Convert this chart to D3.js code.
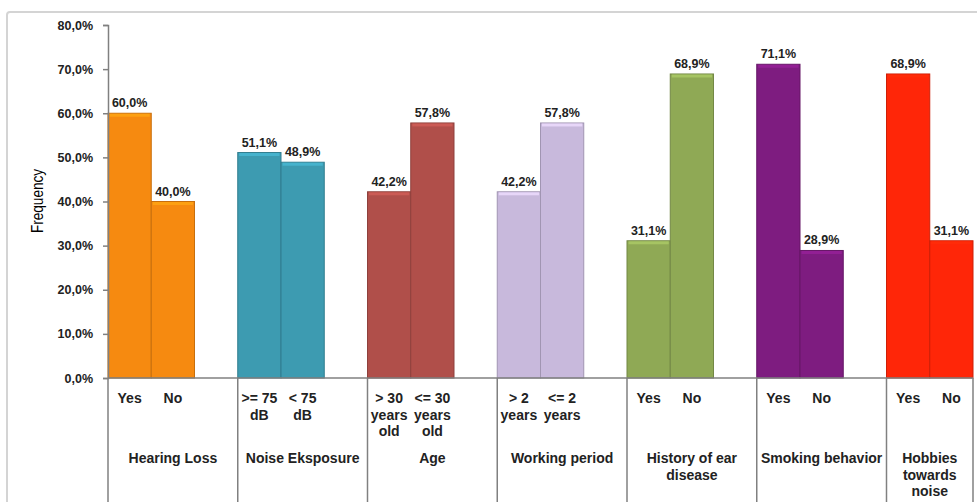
<!DOCTYPE html>
<html>
<head>
<meta charset="utf-8">
<script src="https://cdnjs.cloudflare.com/ajax/libs/d3/7.8.5/d3.min.js"></script>
<style>
  body { margin:0; background:#fff; }
  text { font-family: "Liberation Sans", Arial, sans-serif; }
</style>
</head>
<body>
<div id="chart"></div>
<script>
// groups on the category axis
var groups = ["Hearing Loss", "Noise Eksposure", "Age", "Working period",
              "History of ear disease", "Smoking behavior", "Hobbies towards noise"];
// group label, split in lines
var groupLines = [["Hearing Loss"], ["Noise Eksposure"], ["Age"], ["Working period"],
                  ["History of ear", "disease"], ["Smoking behavior"], ["Hobbies", "towards", "noise"]];
// sub-category labels (2 per group), split in lines
var subLines = [
  [["Yes"], ["No"]],
  [[">= 75", "dB"], ["< 75", "dB"]],
  [["> 30", "years", "old"], ["<= 30", "years", "old"]],
  [["> 2", "years"], ["<= 2", "years"]],
  [["Yes"], ["No"]],
  [["Yes"], ["No"]],
  [["Yes"], ["No"]]
];
// frequency values in %
var firstValues  = [60.0, 51.1, 42.2, 42.2, 31.1, 71.1, 68.9];
var secondValues = [40.0, 48.9, 57.8, 57.8, 68.9, 28.9, 31.1];
var barColors = ["#f68a10", "#3d9bb1", "#b04f4a", "#c8b9dc", "#8fa955", "#7e1c80", "#ff2608"];
var yTicks = [0, 10, 20, 30, 40, 50, 60, 70, 80];

var W = 977, H = 502;
var plotLeft = 108, plotTop = 25, plotBottom = 378;
var slot = 43.25;   // one bar slot (gap width 0, one empty slot between groups)

var svg = d3.select('#chart').append('svg')
    .attr('width', W).attr('height', H);

// outer chart border (cut by the picture on right/bottom)
svg.append('rect')
    .attr('x', 7).attr('y', 12)
    .attr('width', W + 20).attr('height', H + 20)
    .attr('rx', 3)
    .attr('fill', 'none').attr('stroke', '#d4d4d4').attr('stroke-width', 2);

var x = d3.scaleBand()
    .domain(groups)
    .range([plotLeft, plotLeft + slot * 3 * groups.length])
    .paddingInner(0).paddingOuter(0);
var xi = d3.scaleBand().domain([0, 1]).range([0, slot * 2]);
var plotRight = x(groups[groups.length - 1]) + slot * 2;

var y = d3.scaleLinear().domain([0, 80]).range([plotBottom, plotTop]);

// bar data
var bars = [];
groups.forEach(function(g, i) {
  bars.push({g: g, i: i, k: 0, v: firstValues[i], c: barColors[i]});
  bars.push({g: g, i: i, k: 1, v: secondValues[i], c: barColors[i]});
});

var bar = svg.append('g').selectAll('g')
    .data(bars).enter().append('g');

bar.append('rect')
    .attr('x', function(d){ return x(d.g) + xi(d.k); })
    .attr('y', function(d){ return y(d.v); })
    .attr('width', xi.bandwidth())
    .attr('height', function(d){ return plotBottom - y(d.v); })
    .attr('fill', function(d){ return d.c; })
    .attr('stroke', function(d){ return d3.color(d.c).darker(0.6); })
    .attr('stroke-width', 1);

// little bevel highlight on the top
bar.append('rect')
    .attr('x', function(d){ return x(d.g) + xi(d.k) + 1.5; })
    .attr('y', function(d){ return y(d.v) + 0.5; })
    .attr('width', xi.bandwidth() - 3)
    .attr('height', 3)
    .attr('fill', function(d){ return d3.color(d.c).brighter(0.5); })
    .attr('opacity', 0.8);

// value labels
var fmt = function(v){ return v.toFixed(1).replace('.', ',') + '%'; };
bar.append('text')
    .attr('x', function(d){ return x(d.g) + xi(d.k) + xi.bandwidth() / 2; })
    .attr('y', function(d){ return y(d.v) - 6; })
    .attr('text-anchor', 'middle')
    .attr('font-size', '12.5px').attr('font-weight', 'bold').attr('fill', '#222')
    .text(function(d){ return fmt(d.v); });

// y axis
var yAxis = d3.axisLeft(y)
    .tickValues(yTicks)
    .tickSize(5).tickPadding(10)
    .tickFormat(fmt);
var ya = svg.append('g')
    .attr('transform', 'translate(' + plotLeft + ',0)')
    .call(yAxis);
ya.select('.domain').attr('stroke', '#808080').attr('stroke-width', 1.5);
ya.selectAll('.tick line').attr('stroke', '#808080').attr('stroke-width', 1.5);
ya.selectAll('.tick text')
    .attr('font-size', '12.5px').attr('font-weight', 'bold').attr('fill', '#222')
    .style('font-family', '"Liberation Sans", Arial, sans-serif');

// axis title, condensed like Arial Narrow
svg.append('text')
    .attr('transform', 'translate(43,201) rotate(-90) scale(0.85,1)')
    .attr('text-anchor', 'middle')
    .attr('font-size', '16px').attr('fill', '#000')
    .style('font-family', '"Liberation Sans", Arial, sans-serif')
    .text('Frequency');

// category axis: baseline + dividers
svg.append('line')
    .attr('x1', plotLeft).attr('x2', plotRight)
    .attr('y1', plotBottom).attr('y2', plotBottom)
    .attr('stroke', '#808080').attr('stroke-width', 1.5);

var dividers = groups.map(function(g){ return x(g); }).concat([plotRight]);
svg.append('g').selectAll('line')
    .data(dividers).enter().append('line')
    .attr('x1', function(d){ return d; }).attr('x2', function(d){ return d; })
    .attr('y1', plotBottom).attr('y2', H)
    .attr('stroke', '#808080').attr('stroke-width', 1.5);

// sub labels
var subs = [];
groups.forEach(function(g, i) {
  subLines[i].forEach(function(lines, k) {
    subs.push({g: g, k: k, lines: lines});
  });
});
var st = svg.append('g').selectAll('text')
    .data(subs).enter().append('text')
    .attr('text-anchor', 'middle')
    .attr('font-size', '14px').attr('font-weight', 'bold').attr('fill', '#222');
st.selectAll('tspan')
    .data(function(d){ return d.lines.map(function(l){ return {l: l, d: d}; }); })
    .enter().append('tspan')
    .attr('x', function(t){ return x(t.d.g) + xi(t.d.k) + xi.bandwidth() / 2; })
    .attr('y', function(t, j){ return 403 + j * 16.5; })
    .text(function(t){ return t.l; });

// group labels, centred between the dividers of each group
var gt = svg.append('g').selectAll('text')
    .data(groups).enter().append('text')
    .attr('text-anchor', 'middle')
    .attr('font-size', '14px').attr('font-weight', 'bold').attr('fill', '#222');
gt.selectAll('tspan')
    .data(function(g, i){ return groupLines[i].map(function(l){ return {l: l, i: i}; }); })
    .enter().append('tspan')
    .attr('x', function(t){ return (dividers[t.i] + dividers[t.i + 1]) / 2; })
    .attr('y', function(t, j){ return 463 + j * 16.5; })
    .text(function(t){ return t.l; });
</script>
</body>
</html>
